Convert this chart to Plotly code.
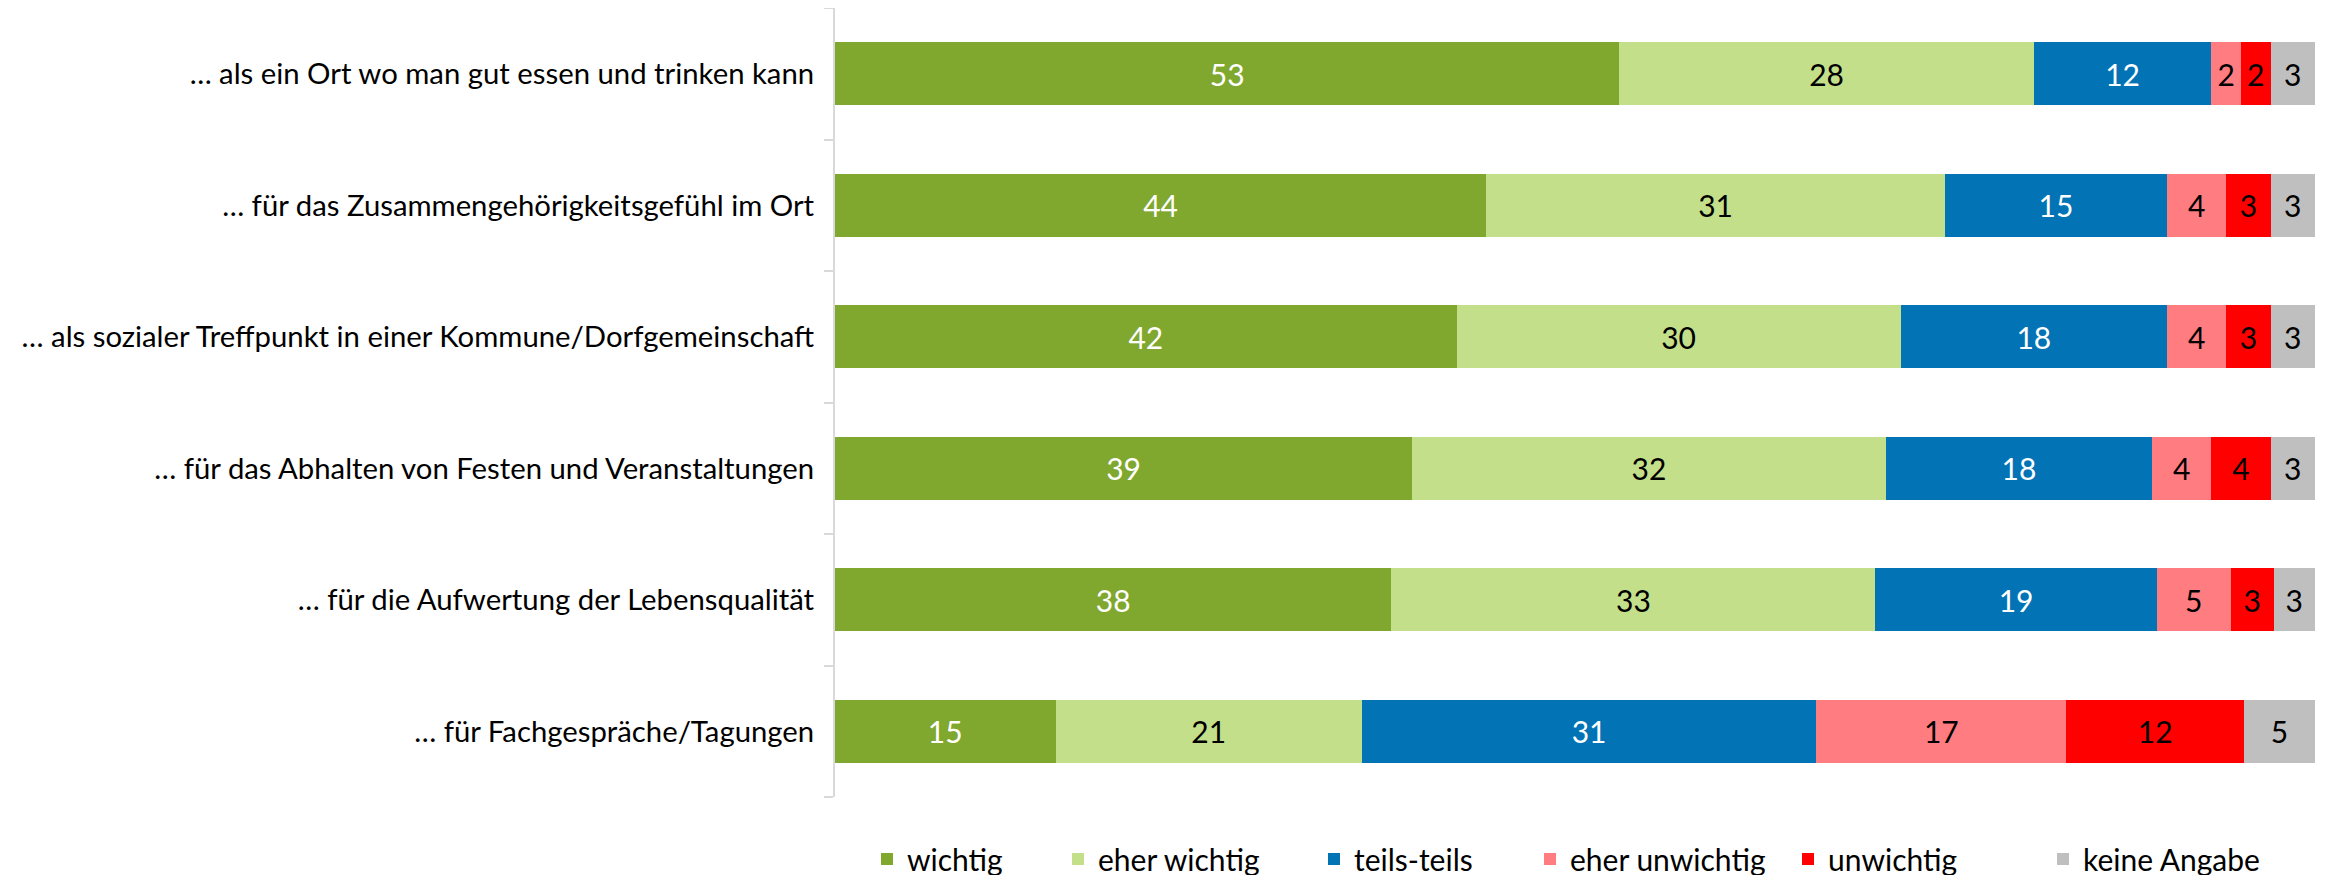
import plotly.graph_objects as go

categories = [
    "… als ein Ort wo man gut essen und trinken kann",
    "… für das Zusammengehörigkeitsgefühl im Ort",
    "… als sozialer Treffpunkt in einer Kommune/Dorfgemeinschaft",
    "… für das Abhalten von Festen und Veranstaltungen",
    "… für die Aufwertung der Lebensqualität",
    "… für Fachgespräche/Tagungen",
]

series_names = ["wichtig", "eher wichtig", "teils-teils", "eher unwichtig", "unwichtig", "keine Angabe"]

# shares in percent (widths), labels as printed
wichtig = [53, 44, 42, 39, 37.6, 14.9]
eher_wichtig = [28, 31, 30, 32, 32.7, 20.7]
teils_teils = [12, 15, 18, 18, 19.0, 30.7]
eher_unwichtig = [2, 4, 4, 4, 5.0, 16.9]
unwichtig = [2, 3, 3, 4, 2.9, 12.0]
keine_angabe = [3, 3, 3, 3, 2.8, 4.8]

labels_wichtig = [53, 44, 42, 39, 38, 15]
labels_eher_wichtig = [28, 31, 30, 32, 33, 21]
labels_teils_teils = [12, 15, 18, 18, 19, 31]
labels_eher_unwichtig = [2, 4, 4, 4, 5, 17]
labels_unwichtig = [2, 3, 3, 4, 3, 12]
labels_keine_angabe = [3, 3, 3, 3, 3, 5]

values = [wichtig, eher_wichtig, teils_teils, eher_unwichtig, unwichtig, keine_angabe]
labels = [labels_wichtig, labels_eher_wichtig, labels_teils_teils,
          labels_eher_unwichtig, labels_unwichtig, labels_keine_angabe]
colors = ["#80A72E", "#C4DF8A", "#0273B5", "#FF7C80", "#FF0000", "#BFBFBF"]
text_colors = ["white", "black", "white", "black", "black", "black"]

FONT = "Lato"
FS = 30
TICK_FS = 29.3

W, H = 2326, 875
ML, MR, MT, MB = 827, 19, 0, 86
PW = W - ML - MR
PH = H - MT - MB

# legend square left edges (screen pixels)
legend_px = [881, 1072, 1328, 1544, 1802, 2057]

fig = go.Figure()
for i, (name, vals, labs, col, tcol) in enumerate(zip(series_names, values, labels, colors, text_colors)):
    lg = "legend" if i == 0 else f"legend{i+1}"
    fig.add_trace(go.Bar(
        name=name, y=categories, x=vals, orientation="h",
        marker=dict(color=col, line=dict(width=0)),
        text=[str(v) for v in labs], textposition="inside",
        insidetextanchor="middle", textangle=0,
        textfont=dict(family=FONT, size=FS, color=tcol),
        hoverinfo="skip", legend=lg,
    ))

legend_layout = {}
for i, px in enumerate(legend_px):
    key = "legend" if i == 0 else f"legend{i+1}"
    legend_layout[key] = dict(
        orientation="h", x=(px - 8 - ML - 14) / PW, xanchor="left",
        y=-36 / PH, yanchor="top", bgcolor="rgba(0,0,0,0)",
        font=dict(family=FONT, size=FS, color="black"),
        itemwidth=30, tracegroupgap=0,
    )

fig.update_layout(
    barmode="stack",
    bargap=0.52,
    width=W, height=H,
    margin=dict(l=ML, r=MR, t=MT, b=MB, autoexpand=False),
    plot_bgcolor="white", paper_bgcolor="white",
    font=dict(family=FONT, size=FS, color="black"),
    uniformtext=dict(minsize=FS, mode="show"),
    showlegend=True,
    **legend_layout,
)
fig.update_xaxes(range=[0, 100], showgrid=False, showticklabels=False, zeroline=False,
                 showline=False, ticks="", automargin=False)
fig.update_yaxes(categoryorder="array", categoryarray=categories[::-1],
                 showline=True, linecolor="#D9D9D9", linewidth=2,
                 ticks="outside", tickson="boundaries", ticklen=9, tickcolor="#D9D9D9",
                 tickwidth=2, showgrid=False, ticklabelstandoff=13, automargin=False,
                 tickfont=dict(family=FONT, size=TICK_FS, color="black"))

fig.write_html("out.html")
